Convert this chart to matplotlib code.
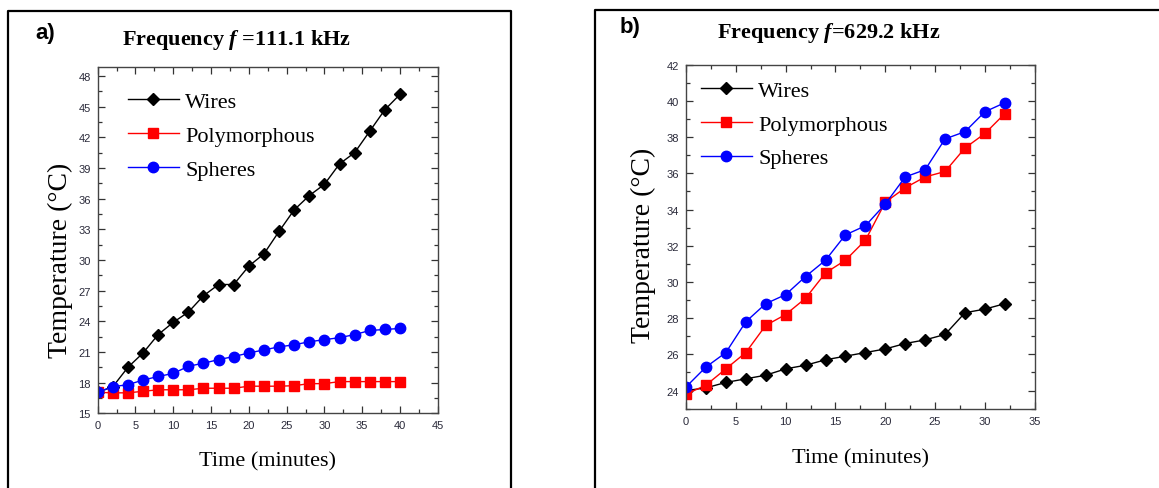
import matplotlib.pyplot as plt
from matplotlib.ticker import MultipleLocator
from matplotlib.lines import Line2D

plt.rcParams['mathtext.fontset'] = 'custom'
plt.rcParams['mathtext.it'] = 'Liberation Serif:italic:bold'
plt.rcParams['mathtext.rm'] = 'Liberation Serif:bold'

# panel a) 111.1 kHz
time_a = [0, 2, 4, 6, 8, 10, 12, 14, 16, 18, 20, 22, 24, 26, 28, 30, 32, 34, 36, 38, 40]
wires_a = [17.05, 17.6, 19.5, 20.9, 22.7, 23.9, 24.9, 26.5, 27.6, 27.6, 29.4,
           30.6, 32.8, 34.9, 36.3, 37.4, 39.4, 40.5, 42.6, 44.7, 46.2]
poly_a = [17.05, 17.0, 17.0, 17.15, 17.3, 17.3, 17.3, 17.45, 17.45, 17.45, 17.65,
          17.65, 17.65, 17.7, 17.9, 17.9, 18.1, 18.1, 18.1, 18.1, 18.1]
spheres_a = [17.05, 17.6, 17.8, 18.25, 18.6, 18.9, 19.6, 19.9, 20.25, 20.55, 20.9,
             21.2, 21.5, 21.7, 22.0, 22.2, 22.4, 22.7, 23.1, 23.2, 23.3]

# panel b) 629.2 kHz
time_b = [0, 2, 4, 6, 8, 10, 12, 14, 16, 18, 20, 22, 24, 26, 28, 30, 32]
wires_b = [24.0, 24.15, 24.45, 24.65, 24.85, 25.2, 25.4, 25.7, 25.9, 26.1, 26.3,
           26.6, 26.8, 27.1, 28.3, 28.5, 28.8]
poly_b = [23.8, 24.3, 25.2, 26.1, 27.6, 28.2, 29.1, 30.5, 31.2, 32.3, 34.4,
          35.2, 35.8, 36.1, 37.4, 38.2, 39.3]
spheres_b = [24.2, 25.3, 26.1, 27.8, 28.8, 29.3, 30.3, 31.2, 32.6, 33.1, 34.3,
             35.8, 36.2, 37.9, 38.3, 39.4, 39.9]

series_names = ['Wires', 'Polymorphous', 'Spheres']
colors = ['black', '#ff0000', '#0000ff']
markers = ['D', 's', 'o']
msizes = [6.5, 6.5, 7.5]

serif = 'Liberation Serif'
tickfont = ['Liberation Sans Narrow', 'Liberation Sans']

fig = plt.figure(figsize=(11.59, 4.89), dpi=100)

# frames around the two panels
fig.add_artist(Line2D([0.0069, 0.0069, 0.4409, 0.4409], [0.0, 0.9755, 0.9755, 0.0],
                      transform=fig.transFigure, color='black', lw=1.6))
fig.add_artist(Line2D([0.5134, 0.5134, 1.0], [0.0, 0.9775, 0.9775],
                      transform=fig.transFigure, color='black', lw=1.6))

ax1 = fig.add_axes([0.0843, 0.1528, 0.2934, 0.7075])
ax2 = fig.add_axes([0.5919, 0.1622, 0.3009, 0.7035])

panels = [
    (ax1, time_a, [wires_a, poly_a, spheres_a], (0, 45), (15, 48.85), 3, (0.088, 0.93)),
    (ax2, time_b, [wires_b, poly_b, spheres_b], (0, 35), (23, 42), 2, (0.042, 0.955)),
]

for ax, t, ys, xl, yl, ystep, leg_pos in panels:
    for y, name, c, m, ms in zip(ys, series_names, colors, markers, msizes):
        ax.plot(t, y, color=c, marker=m, markersize=ms, lw=1.0, label=name)
    ax.set_xlim(xl)
    ax.set_ylim(yl)
    ax.xaxis.set_major_locator(MultipleLocator(5))
    ax.xaxis.set_minor_locator(MultipleLocator(2.5))
    ax.yaxis.set_major_locator(MultipleLocator(ystep))
    ax.yaxis.set_minor_locator(MultipleLocator(ystep / 2))
    ax.tick_params(which='both', direction='in', top=True, right=True,
                   colors='#333333', width=0.9)
    ax.tick_params(which='major', length=5, labelsize=8, labelcolor='#2a2a3a', pad=5)
    ax.tick_params(which='minor', length=3)
    for lab in ax.get_xticklabels() + ax.get_yticklabels():
        lab.set_family(tickfont)
    for sp in ax.spines.values():
        sp.set_color('#444444')
        sp.set_linewidth(1.0)
    ax.set_xlabel('Time (minutes)', fontsize=16, family=serif)
    ax.set_ylabel('Temperature (°C)', fontsize=20, family=serif)
    ax.legend(loc='upper left', bbox_to_anchor=leg_pos, frameon=False,
              prop={'family': serif, 'size': 16}, borderpad=0, borderaxespad=0,
              handlelength=2.3, handletextpad=0.3, labelspacing=0.6)

ax1.xaxis.set_label_coords(0.5, -0.11)
ax1.yaxis.set_label_coords(-0.072, 0.446)
ax2.xaxis.set_label_coords(0.5, -0.115)
ax2.yaxis.set_label_coords(-0.086, 0.479)

fig.text(236.7 / 1159, 1 - 40 / 489, r'Frequency $f$ =111.1 kHz', family=serif,
         fontweight='bold', fontsize=16, ha='center', va='center')
fig.text(829 / 1159, 1 - 33 / 489, r'Frequency $f$=629.2 kHz', family=serif,
         fontweight='bold', fontsize=16, ha='center', va='center')

fig.text(45 / 1159, 1 - 33 / 489, 'a)', family='Liberation Sans', fontweight='bold',
         fontsize=16, ha='center', va='center')
fig.text(630 / 1159, 1 - 27 / 489, 'b)', family='Liberation Sans', fontweight='bold',
         fontsize=16, ha='center', va='center')

plt.savefig('out.png', dpi=100)
